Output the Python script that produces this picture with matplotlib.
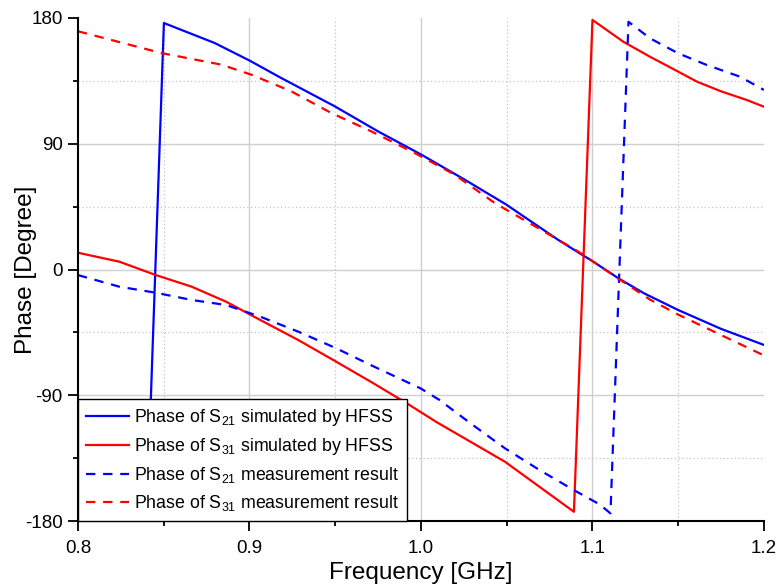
import matplotlib
matplotlib.use('Agg')
import matplotlib.pyplot as plt

plt.rcParams['font.family'] = ['Liberation Sans', 'DejaVu Sans']
plt.rcParams['mathtext.fontset'] = 'custom'
plt.rcParams['mathtext.rm'] = 'Liberation Sans'
plt.rcParams['axes.unicode_minus'] = False

# S21 simulated (HFSS)
freq_s21_sim = [0.840, 0.8501, 0.8797, 0.9001, 0.9186, 0.9497, 0.9749, 1.0002,
                1.0255, 1.0498, 1.0799, 1.0945, 1.10, 1.115, 1.13, 1.15,
                1.175, 1.20]
phase_s21_sim = [-180.5, 176.4, 162.1, 149.5, 137.0, 116.8, 98.9, 82.2,
                 64.3, 46.4, 21.3, 10.1, 6, -6.2, -17, -29,
                 -42.5, -54]

# S31 simulated (HFSS)
freq_s31_sim = [0.80, 0.8241, 0.8452, 0.8663, 0.8863, 0.9064, 0.9285, 0.9506,
                0.9707, 0.9918, 1.0088, 1.0289, 1.049, 1.0691, 1.0892, 1.10,
                1.118, 1.1335, 1.15, 1.161, 1.175, 1.19, 1.20]
phase_s31_sim = [12.0, 5.6, -3.9, -12.3, -23.0, -36.2, -50.5, -66.0,
                 -80.3, -95.8, -109.0, -123.3, -137.6, -155.5, -173.4, 178.6,
                 163, 152.3, 141.6, 134.4, 127.5, 121.3, 116.5]

# S21 measured
freq_s21_meas = [0.80, 0.8241, 0.8452, 0.8663, 0.8863, 0.9064, 0.9285, 0.9506,
                 0.9707, 0.9998, 1.0108, 1.0289, 1.049, 1.0691, 1.0892, 1.104,
                 1.1105, 1.121, 1.1335, 1.15, 1.1666, 1.186, 1.20]
phase_s21_meas = [-4.0, -12.3, -16.6, -21.8, -25.4, -33.8, -44.5, -56.4,
                  -68.4, -85.1, -93.4, -110.1, -128, -143.5, -157.9, -168,
                  -174.5, 177.3, 165.5, 154.7, 146.4, 138, 128.5]

# S31 measured
freq_s31_meas = [0.80, 0.8486, 0.8836, 0.9011, 0.9244, 0.9477, 0.971, 0.9963,
                 1.0196, 1.043, 1.0682, 1.0915, 1.1147, 1.1335, 1.15, 1.1704,
                 1.1967, 1.20]
phase_s31_meas = [170.5, 154.9, 146.6, 139.4, 127.5, 112, 98.9, 83.4,
                  67.9, 47.6, 29.7, 13, -6.2, -21.5, -32.3, -44.2,
                  -59.6, -61.5]

x_major = [0.8, 0.9, 1.0, 1.1, 1.2]
x_minor = [0.85, 0.95, 1.05, 1.15]
y_major = [-180, -90, 0, 90, 180]
y_minor = [-135, -45, 45, 135]

labels = [r'Phase of S$_\mathregular{21}$ simulated by HFSS',
          r'Phase of S$_\mathregular{31}$ simulated by HFSS',
          r'Phase of S$_\mathregular{21}$ measurement result',
          r'Phase of S$_\mathregular{31}$ measurement result']

fig = plt.figure(figsize=(7.79, 5.86), dpi=100)
ax = fig.add_axes([0.1001, 0.1109, 0.8806, 0.8584])

# grid (interior lines only)
for v in x_major[1:-1]:
    ax.axvline(v, color='#cfcfcf', lw=1.0, zorder=0)
for v in y_major[1:-1]:
    ax.axhline(v, color='#cfcfcf', lw=1.0, zorder=0)
for v in x_minor:
    ax.axvline(v, color='#c4c4c4', lw=0.9, ls=(0, (1, 2)), zorder=0)
for v in y_minor:
    ax.axhline(v, color='#c4c4c4', lw=0.9, ls=(0, (1, 2)), zorder=0)

dash = (0, (4.2, 3.5))
ax.plot(freq_s21_sim, phase_s21_sim, color='#0000ff', lw=1.6, label=labels[0])
ax.plot(freq_s31_sim, phase_s31_sim, color='#ff0000', lw=1.6, label=labels[1])
ax.plot(freq_s21_meas, phase_s21_meas, color='#0000ff', lw=1.6, ls=dash, label=labels[2])
ax.plot(freq_s31_meas, phase_s31_meas, color='#ff0000', lw=1.6, ls=dash, label=labels[3])

ax.set_xlim(0.8, 1.2)
ax.set_ylim(-180, 180)
ax.set_xticks(x_major)
ax.set_xticks(x_minor, minor=True)
ax.set_yticks(y_major)
ax.set_yticks(y_minor, minor=True)
ax.set_xticklabels(['0.8', '0.9', '1.0', '1.1', '1.2'])
ax.set_yticklabels(['-180', '-90', '0', '90', '180'])

for s in ['top', 'right']:
    ax.spines[s].set_visible(False)
for s in ['left', 'bottom']:
    ax.spines[s].set_linewidth(1.5)

ax.tick_params(which='major', direction='out', length=7, width=1.3,
               labelsize=13.5, pad=4)
ax.tick_params(which='minor', direction='out', length=3.5, width=1.3)
ax.tick_params(axis='x', which='major', pad=6.5)

ax.set_xlabel('Frequency [GHz]', fontsize=17.5)
ax.set_ylabel('Phase [Degree]', fontsize=17.5)
ax.xaxis.set_label_coords(0.5, -0.081)
ax.yaxis.set_label_coords(-0.06, 0.5)

leg = ax.legend(loc='lower left', borderaxespad=0, fontsize=12.8,
                fancybox=False, framealpha=1, edgecolor='black',
                handlelength=2.4, handletextpad=0.3, borderpad=0.45,
                labelspacing=0.45)
leg.get_frame().set_linewidth(1.0)

fig.savefig('out.png', dpi=100)
